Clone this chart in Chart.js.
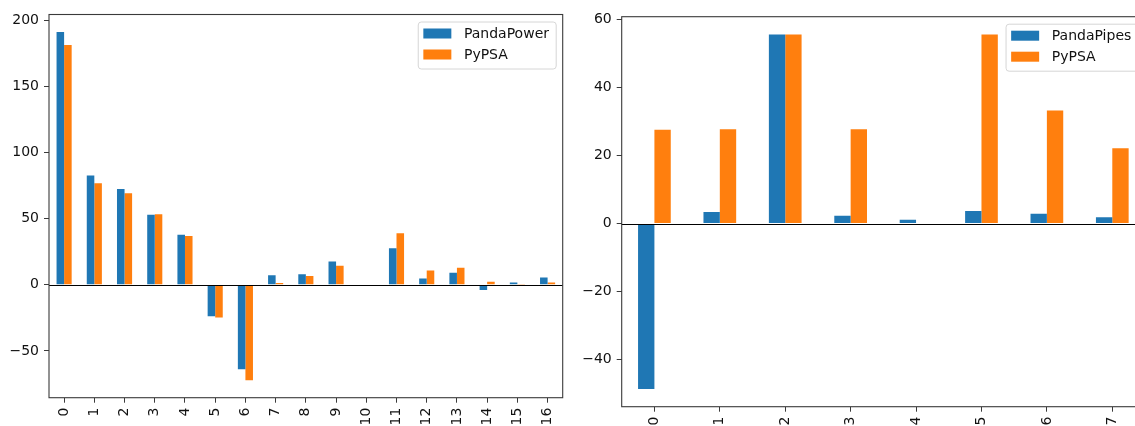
<!DOCTYPE html>
<html>
<head>
<meta charset="utf-8">
<script src="https://cdn.jsdelivr.net/npm/chart.js@4/dist/chart.umd.min.js"></script>
<style>
html, body { margin: 0; padding: 0; background: #fff; overflow: hidden; width: 1135px; height: 426px; }
#powerChart { position: absolute; left: 0; top: 0; }
#pipesChart { position: absolute; left: 570px; top: 0; }
</style>
</head>
<body>
<canvas id="powerChart" width="570" height="426"></canvas>
<canvas id="pipesChart" width="582" height="426"></canvas>
<script>
// Left panel: electricity
const powerCats = ['0', '1', '2', '3', '4', '5', '6', '7', '8', '9', '10', '11', '12', '13', '14', '15', '16'];
const pandaPower = [191.2, 82.6, 72.5, 53.0, 37.9, -23.7, -63.9, 7.3, 7.9, 17.7, 0, 27.6, 4.8, 9.1, -4.0, 1.8, 5.6];
const pypsaPower = [181.4, 76.8, 69.2, 53.3, 36.9, -24.7, -72.2, 1.3, 6.6, 14.4, 0, 38.9, 10.9, 12.9, 2.3, 0.3, 1.8];
const powerTicks = [-50, 0, 50, 100, 150, 200];

// Right panel: gas
const pipeCats = ['0', '1', '2', '3', '4', '5', '6', '7'];
const pandaPipes = [-48.7, 3.4, 55.7, 2.3, 1.1, 3.7, 2.9, 1.9];
const pypsaGas = [27.6, 27.8, 55.7, 27.8, 0, 55.7, 33.3, 22.2];
const pipeTicks = [-40, -20, 0, 20, 40, 60];

const BLUE = '#1f77b4';
const ORANGE = '#ff7f0e';
const TEXT = '#111';
const FONT = { family: "'DejaVu Sans', sans-serif", size: 14 };

// spines, zero line and a matplotlib-like legend box
const framePlugin = {
    id: 'frame',
    afterDatasetsDraw(chart) {
        const { ctx, chartArea: a, scales: { y } } = chart;
        ctx.save();
        const y0 = Math.round(y.getPixelForValue(0)) + 0.5;
        ctx.strokeStyle = '#000';
        ctx.lineWidth = 1.1;
        ctx.beginPath();
        ctx.moveTo(a.left, y0);
        ctx.lineTo(a.right, y0);
        ctx.stroke();

        ctx.strokeStyle = '#3a3a3a';
        ctx.lineWidth = 1.1;
        ctx.strokeRect(a.left, a.top, a.right - a.left, a.bottom - a.top);

        // legend
        ctx.font = `${FONT.size}px ${FONT.family}`;
        const sets = chart.data.datasets;
        const tw = Math.max(...sets.map(d => ctx.measureText(d.label).width));
        const w = 5.6 + 28 + 12.6 + tw + 6.7;
        const h = 47;
        const bx = a.right - 7 - w;
        const by = a.top + 7;
        ctx.beginPath();
        ctx.roundRect(bx + 0.5, by + 0.5, w, h, 3);
        ctx.fillStyle = 'rgba(255,255,255,0.8)';
        ctx.fill();
        ctx.strokeStyle = '#d6d6d6';
        ctx.lineWidth = 1;
        ctx.stroke();
        sets.forEach((d, i) => {
            ctx.fillStyle = d.backgroundColor;
            ctx.fillRect(bx + 5.6, by + 7 + i * 21, 28, 10);
            ctx.fillStyle = TEXT;
            ctx.textBaseline = 'middle';
            ctx.textAlign = 'left';
            ctx.fillText(d.label, bx + 46.2, by + 12.5 + i * 21);
        });
        ctx.restore();
    }
};

function fmt(v) {
    return v < 0 ? '\u2212' + Math.abs(v) : String(v);
}

function makeChart(id, cats, blue, blueLabel, orange, yTicks, box) {
    const lo = Math.min(0, ...blue, ...orange);
    const hi = Math.max(0, ...blue, ...orange);
    const m = (hi - lo) * 0.05;
    return new Chart(document.getElementById(id), {
        type: 'bar',
        data: {
            labels: cats,
            datasets: [
                { label: blueLabel, data: blue, backgroundColor: BLUE, borderWidth: 0 },
                { label: 'PyPSA', data: orange, backgroundColor: ORANGE, borderWidth: 0 }
            ]
        },
        options: {
            responsive: false,
            animation: false,
            layout: { padding: { top: box.top, right: box.right, left: 0, bottom: 0 } },
            datasets: { bar: { categoryPercentage: 0.5, barPercentage: 1 } },
            plugins: { legend: { display: false }, tooltip: { enabled: false } },
            scales: {
                x: {
                    offset: true,
                    grid: { offset: false, drawOnChartArea: false, drawTicks: true, tickLength: 5, color: '#3a3a3a', lineWidth: 1 },
                    border: { display: false },
                    ticks: { color: TEXT, font: FONT, minRotation: 90, maxRotation: 90, autoSkip: false, padding: 5 },
                    afterFit: s => { s.height = box.bottom; }
                },
                y: {
                    min: lo - m,
                    max: hi + m,
                    grid: { drawOnChartArea: false, drawTicks: true, tickLength: 5, color: '#3a3a3a', lineWidth: 1 },
                    border: { display: false },
                    ticks: { color: TEXT, font: FONT, padding: 5, callback: v => fmt(v) },
                    afterBuildTicks: s => { s.ticks = yTicks.map(v => ({ value: v })); },
                    afterFit: s => { s.width = box.left; }
                }
            }
        },
        plugins: [framePlugin]
    });
}

makeChart('powerChart', powerCats, pandaPower, 'PandaPower', pypsaPower, powerTicks,
    { left: 49, top: 14.5, right: 7.3, bottom: 28.3 });
makeChart('pipesChart', pipeCats, pandaPipes, 'PandaPipes', pypsaGas, pipeTicks,
    { left: 51.7, top: 16.7, right: 7, bottom: 19.3 });
</script>
</body>
</html>
